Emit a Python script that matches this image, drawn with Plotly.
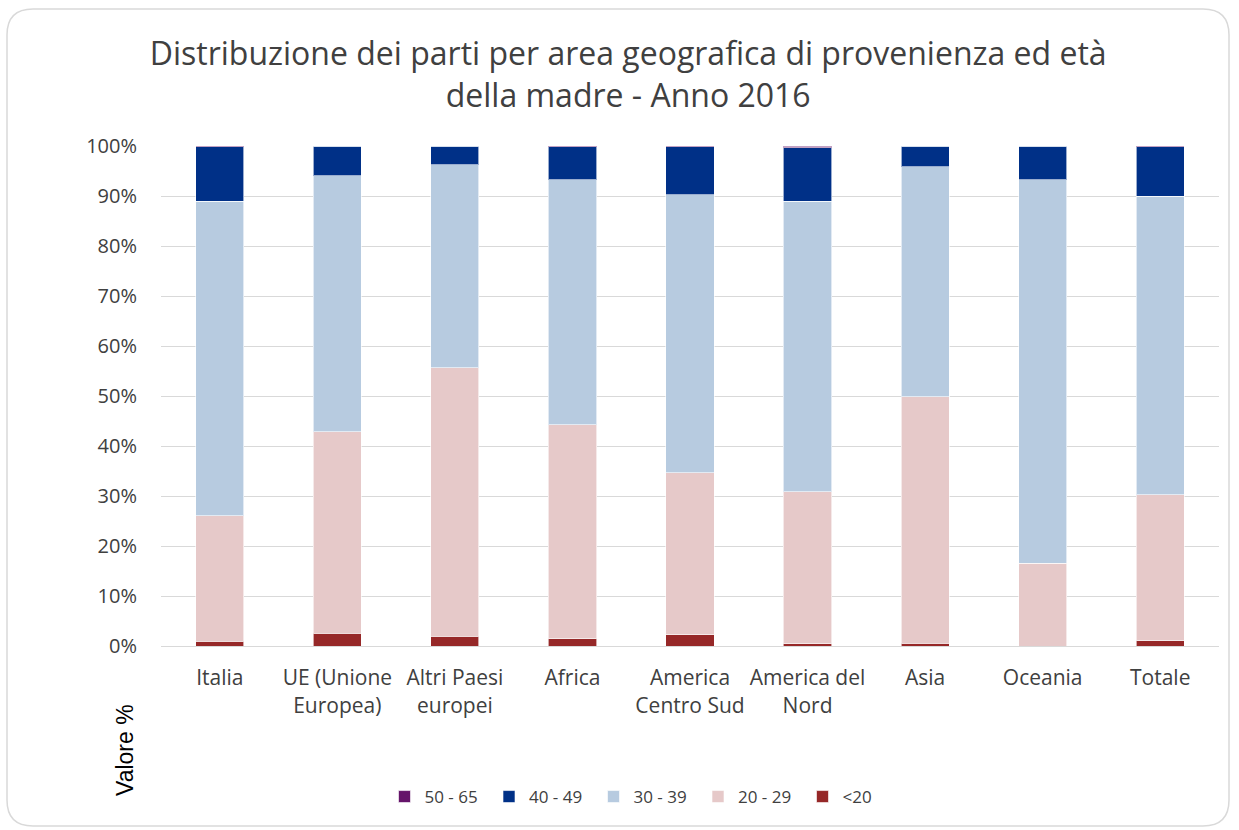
import plotly.graph_objects as go

categories = ["Italia", "UE (Unione<br>Europea)", "Altri Paesi<br>europei", "Africa",
              "America<br>Centro Sud", "America del<br>Nord", "Asia", "Oceania", "Totale"]

under_20 = [1.0, 2.6, 2.0, 1.5, 2.3, 0.5, 0.6, 0.0, 1.1]
age_20_29 = [25.1, 40.3, 53.7, 42.8, 32.4, 30.4, 49.3, 16.6, 29.2]
age_30_39 = [62.9, 51.2, 40.6, 49.0, 55.6, 58.1, 46.0, 76.7, 59.7]
age_40_49 = [10.9, 5.9, 3.7, 6.6, 9.6, 10.7, 4.1, 6.7, 9.9]
age_50_65 = [0.1, 0.0, 0.0, 0.05, 0.1, 0.3, 0.0, 0.0, 0.1]

series = [
    ("<20", under_20, "#962828"),
    ("20 - 29", age_20_29, "#E6C9C9"),
    ("30 - 39", age_30_39, "#B7CBE0"),
    ("40 - 49", age_40_49, "#003087"),
    ("50 - 65", age_50_65, "#65146A"),
]

FONT = "Open Sans"
TXT = "#404040"

fig = go.Figure()
for name, vals, col in series:
    fig.add_trace(go.Bar(
        x=categories, y=[v / 100 for v in vals], name=name,
        marker=dict(color=col, line=dict(color="rgba(255,255,255,0.6)", width=1)),
    ))

# plot area geometry (pixels)
L, R, T, B = 161, 20, 146, 184
W, H = 1239, 830
pw, ph = W - L - R, H - T - B

def px(x):
    return (x - L) / pw

def py(y):
    return (H - B - y) / ph

# rounded card border
x0, y0, x1, y1, r = 7, 9, 1229, 826, 26
path = (f"M {px(x0+r)},{py(y0)} L {px(x1-r)},{py(y0)} "
        f"Q {px(x1)},{py(y0)} {px(x1)},{py(y0+r)} "
        f"L {px(x1)},{py(y1-r)} Q {px(x1)},{py(y1)} {px(x1-r)},{py(y1)} "
        f"L {px(x0+r)},{py(y1)} Q {px(x0)},{py(y1)} {px(x0)},{py(y1-r)} "
        f"L {px(x0)},{py(y0+r)} Q {px(x0)},{py(y0)} {px(x0+r)},{py(y0)} Z")

fig.update_layout(
    width=W, height=H,
    barmode="stack", bargap=0.59,
    paper_bgcolor="white", plot_bgcolor="white",
    margin=dict(l=L, r=R, t=T, b=B),
    font=dict(family=FONT, color=TXT),
    title=dict(
        text="Distribuzione dei parti per area geografica di provenienza ed età<br>della madre - Anno 2016",
        x=0.507, xanchor="center", y=1 - 65 / H, yanchor="middle",
        font=dict(family=FONT, size=32, color=TXT),
    ),
    xaxis=dict(
        tickfont=dict(family=FONT, size=21, color=TXT),
        showgrid=False, showline=True, linecolor="#D9D9D9", linewidth=1,
        ticks="", ticklabelstandoff=13,
    ),
    yaxis=dict(
        range=[0, 1], tickformat=".0%", dtick=0.1,
        tickfont=dict(family=FONT, size=20, color=TXT),
        showgrid=True, gridcolor="#D9D9D9", gridwidth=1,
        zeroline=False, showline=False, ticks="", ticklabelstandoff=23,
    ),
    legend=dict(
        orientation="h", x=px(646), xanchor="center", y=py(797), yanchor="middle",
        traceorder="reversed", font=dict(family=FONT, size=17, color=TXT),
        itemwidth=30, entrywidth=59.5,
    ),
    shapes=[dict(type="path", xref="paper", yref="paper", path=path,
                 line=dict(color="#D9D9D9", width=1.5), fillcolor="rgba(0,0,0,0)",
                 layer="below")],
    annotations=[dict(
        text="Valore %", xref="paper", yref="paper", x=px(125), y=py(750),
        textangle=-90, showarrow=False, xanchor="center", yanchor="middle",
        font=dict(family="Liberation Sans", size=23, color="#000000"),
    )],
)

fig.write_html("out.html", config={"displayModeBar": False},
               post_script="document.body.style.margin='0px';document.body.style.overflow='hidden';")
